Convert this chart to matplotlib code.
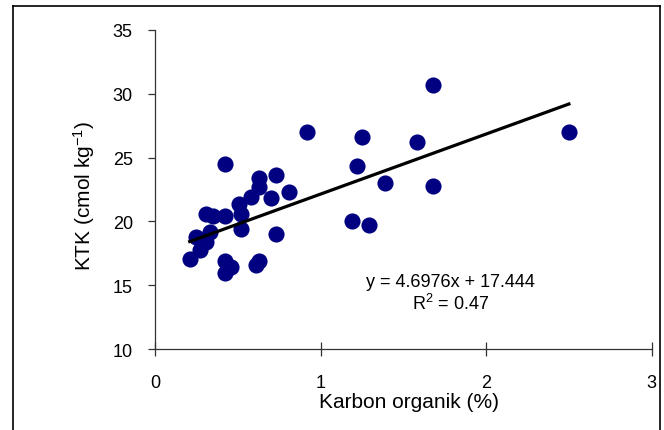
import matplotlib
matplotlib.use("Agg")
import matplotlib.pyplot as plt
from matplotlib.lines import Line2D
import numpy as np

plt.rcParams['font.family'] = ['Liberation Sans', 'DejaVu Sans']
plt.rcParams['mathtext.fontset'] = 'custom'
plt.rcParams['mathtext.rm'] = 'Liberation Sans'
plt.rcParams['mathtext.it'] = 'Liberation Sans'

# Data
karbon = [0.92, 1.25, 0.42, 1.22, 0.63, 0.73, 1.39, 0.63, 0.58, 0.70,
          0.81, 0.51, 0.52, 0.31, 0.35, 0.42, 0.52, 0.73, 1.19, 1.29,
          0.25, 0.33, 0.31, 0.27, 0.21, 0.42, 0.46, 0.42, 0.63, 0.61,
          1.68, 2.50, 1.68, 1.58]
ktk = [27.0, 26.6, 24.5, 24.3, 23.4, 23.6, 23.0, 22.7, 21.9, 21.8,
       22.3, 21.4, 20.6, 20.6, 20.4, 20.4, 19.4, 19.0, 20.0, 19.7,
       18.8, 19.2, 18.4, 17.8, 17.1, 16.9, 16.4, 16.0, 16.9, 16.6,
       30.7, 27.0, 22.8, 26.2]
slope = 4.6976
intercept = 17.444
r2 = 0.47
xticks = [0, 1, 2, 3]
yticks = [10, 15, 20, 25, 30, 35]

W, H = 664, 431
fig = plt.figure(figsize=(W / 100, H / 100), dpi=100)
ax = fig.add_axes([155 / W, 1 - 350.3 / H, (651.7 - 155) / W, (350.3 - 30.7) / H])

ax.scatter(karbon, ktk, s=135, color='#000080', zorder=3, linewidths=0)
xs = np.array([min(karbon), max(karbon)])
ax.plot(xs, slope * xs + intercept, color='black', lw=2.3, zorder=4)

ax.set_xlim(0, 3)
ax.set_ylim(10, 35)
ax.set_xticks(xticks)
ax.set_yticks(yticks)
ax.set_xticklabels([str(t) for t in xticks])
ax.set_yticklabels([str(t) for t in yticks])
ax.spines['top'].set_visible(False)
ax.spines['right'].set_visible(False)
for s in ['left', 'bottom']:
    ax.spines[s].set_linewidth(0.9)
    ax.spines[s].set_color('#333333')
ax.tick_params(axis='y', direction='out', length=5, width=0.9, pad=11, labelsize=13, color='#333333')
ax.tick_params(axis='x', direction='inout', length=10, width=0.9, pad=13, labelsize=13, color='#333333')

ax.set_xlabel('Karbon organik (%)', fontsize=15)
ax.xaxis.set_label_coords(0.511, -0.133)
ax.set_ylabel('KTK (cmol kg$^{-1}$)', fontsize=15)
ax.yaxis.set_label_coords(-0.116, 0.483)

ax.text(1.787, 15.27, 'y = 4.6976x + 17.444', fontsize=13, ha='center', va='center')
ax.text(1.787, 13.66, 'R$^{2}$ = %.2f' % r2, fontsize=13, ha='center', va='center')

# outer frame
for xy in [([12.5, 12.5], [0, H - 7]), ([12.5, 659.5], [H - 7, H - 7]), ([659.5, 659.5], [H - 7, 0])]:
    fig.add_artist(Line2D([v / W for v in xy[0]], [v / H for v in xy[1]],
                          transform=fig.transFigure, color='black', lw=1.2))

fig.savefig('out.png', dpi=100)
